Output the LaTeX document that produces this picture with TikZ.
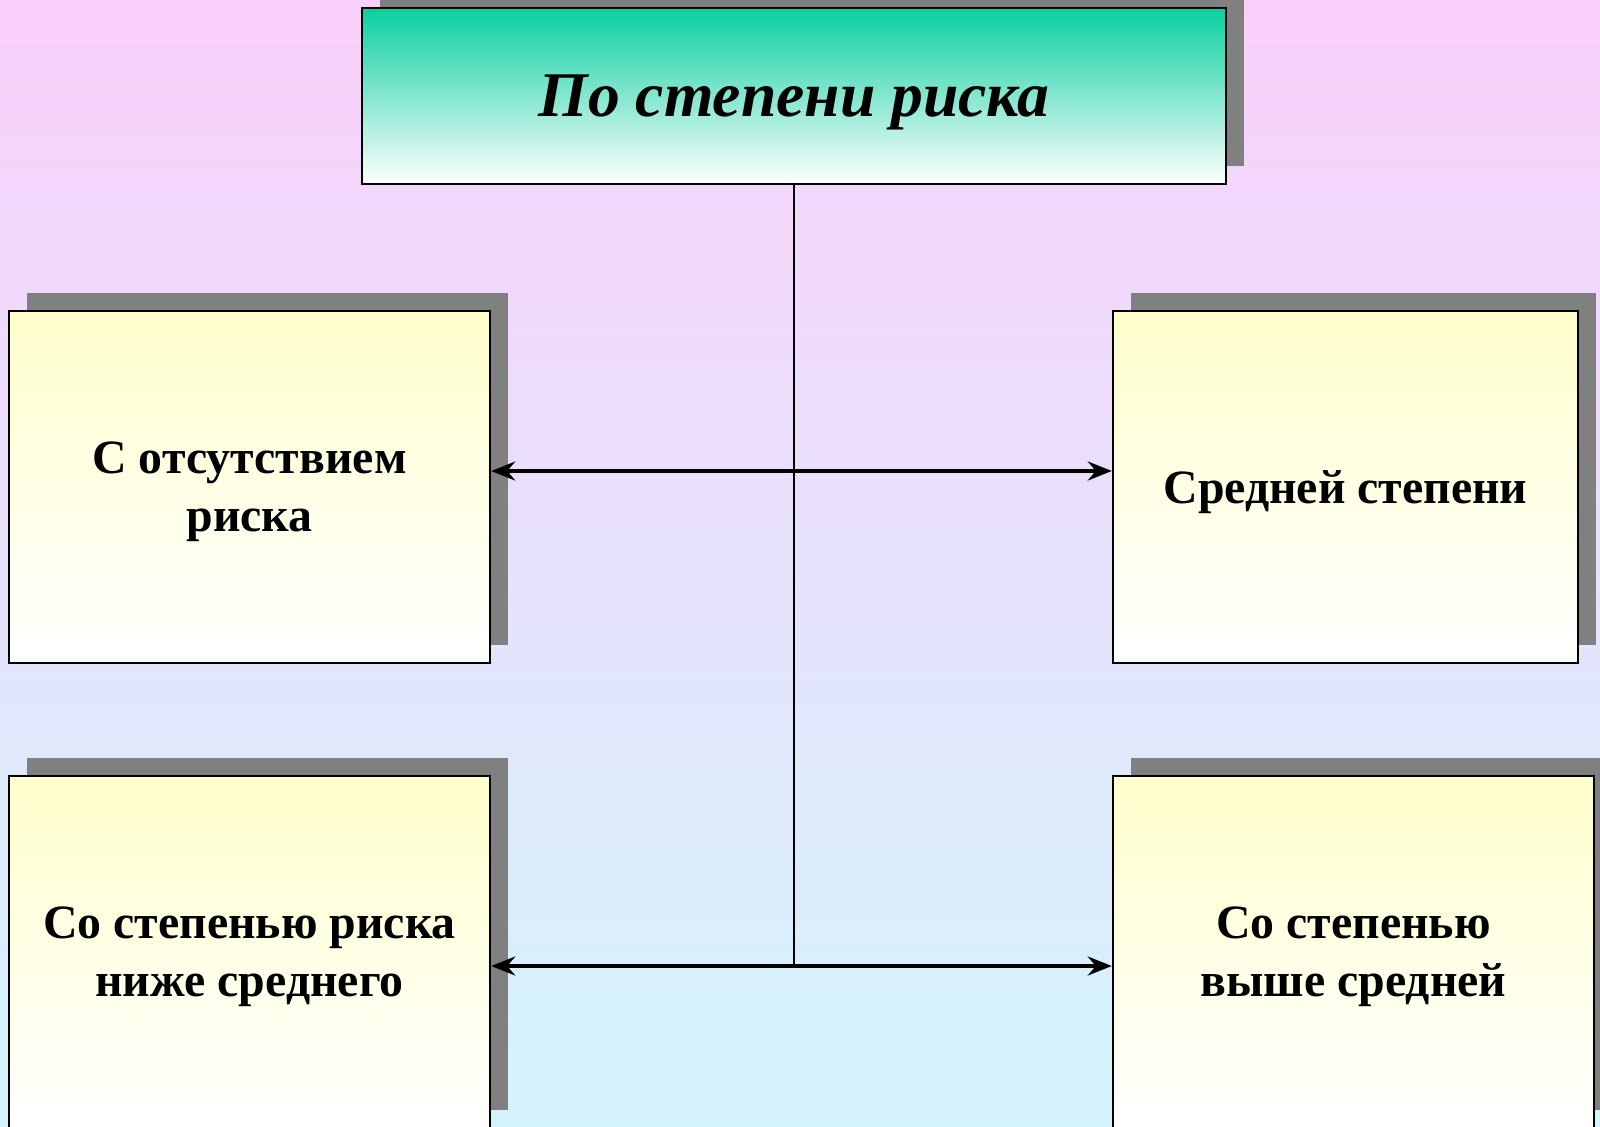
\documentclass[tikz,border=0pt]{standalone}
\usepackage{fontspec}
\setmainfont{Liberation Serif}
\usetikzlibrary{arrows.meta,shadows}

\definecolor{bgtop}{HTML}{FAD0FA}
\definecolor{bgmid}{HTML}{E5E1FC}
\definecolor{bgbot}{HTML}{D3F4FD}
\definecolor{teal}{HTML}{0ACF9F}
\definecolor{pale}{HTML}{FFFFCC}
\definecolor{shade}{HTML}{808080}

\begin{document}
\begin{tikzpicture}[x=0.01cm,y=-0.01cm,
    box/.style={draw=black,line width=0.6pt,inner sep=0pt,align=center,text depth=0pt,
      minimum height=3.52cm,top color=pale,bottom color=white,
      font=\fontsize{13.6}{16.5}\selectfont\bfseries,
      drop shadow={shadow xshift=0.18cm,shadow yshift=0.18cm,fill=shade,opacity=1}},
    twoway/.style={line width=1pt,{Stealth[length=0.24cm,width=0.19cm,inset=0.08cm]}-{Stealth[length=0.24cm,width=0.19cm,inset=0.08cm]}},
    stem/.style={line width=0.45pt}]
        \useasboundingbox (0,0) rectangle (1600,1126);
        \fill[top color=bgtop,middle color=bgmid,bottom color=bgbot] (0,0) rectangle (1600,1126);

        \node (title) [box,minimum width=8.64cm,minimum height=1.76cm,top color=teal,
            font=\fontsize{18.1}{22}\selectfont\bfseries\itshape] at (794,96) {По степени риска};
        \node (none) [box,minimum width=4.81cm] at (249.5,487) {С отсутствием\\риска};
        \node (mid) [box,minimum width=4.65cm] at (1345.5,487) {Средней степени};
        \node (low) [box,minimum width=4.81cm] at (249.5,952) {Со степенью риска\\ниже среднего};
        \node (high) [box,minimum width=4.81cm] at (1353.5,952) {Со степенью\\выше средней};

        \coordinate (jn) at ([yshift=-0.14cm]low.east);
        \draw[stem] (title.south) -- (title.south |- jn);
        \draw[twoway] ([yshift=0.16cm]none.east) -- ([yshift=0.16cm]mid.west);
        \draw[twoway] (jn) -- ([yshift=-0.14cm]high.west);

    \end{tikzpicture}
\end{document}
